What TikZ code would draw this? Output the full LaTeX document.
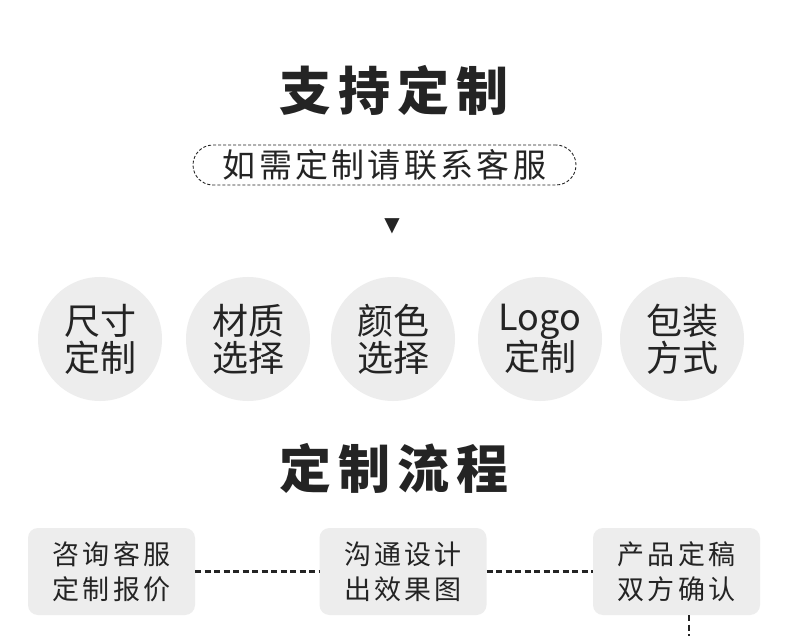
\documentclass[tikz,border=0pt]{standalone}
\usepackage{fontspec}
\setmainfont{Noto Sans CJK SC}
\newfontfamily\symfont{DejaVu Sans}
\definecolor{softgray}{RGB}{237,237,237}
\definecolor{inkgray}{RGB}{36,36,36}
\usetikzlibrary{positioning}
\tikzset{
  title/.style={text=inkgray, font=\fontsize{52}{56}\selectfont\bfseries\addfontfeature{LetterSpace=14}},
  note/.style={draw=inkgray, line width=0.9pt, dash pattern=on 3pt off 2pt, rounded corners=20pt, minimum width=383pt, minimum height=40pt, text=inkgray, font=\fontsize{33}{36}\selectfont\addfontfeature{LetterSpace=10}},
  option/.style={circle, fill=softgray, minimum size=124pt, inner sep=0pt, align=center, text=inkgray, font=\fontsize{36}{37}\selectfont},
  stepbox/.style={fill=softgray, rounded corners=10pt, minimum width=167pt, minimum height=87pt, align=center, text=inkgray, font=\fontsize{27}{35}\selectfont\addfontfeature{LetterSpace=12}},
  link/.style={draw=inkgray, line width=2.2pt, dash pattern=on 6pt off 3.5pt}
}

\begin{document}
\begin{tikzpicture}[x=1pt, y=-1pt]
  \fill[white] (0,0) rectangle (790,636);
  \useasboundingbox (0,0) rectangle (790,636);

  \node[title] (head) at (394,90) {支持定制};
  \node[note] (ask) at (384.5,165) {如需定制请联系客服};
  \node[text=inkgray, font=\symfont\fontsize{20}{20}\selectfont] (mark) at (392,226) {▼};

  % what can be customised
  \foreach \x/\name/\txt in {100/size/{尺寸\\定制}, 248/material/{材质\\选择}, 393/colour/{颜色\\选择}, 540/logo/{Logo\\定制}, 682/package/{包装\\方式}}
    \node[option] (\name) at (\x,339) {\txt};

  \node[title] (flow) at (394,468) {定制流程};

  % process
  \node[stepbox] (consult) at (111.5,571.5) {咨询客服\\定制报价};
  \node[stepbox] (design) at (403,571.5) {沟通设计\\出效果图};
  \node[stepbox] (confirm) at (676.5,571.5) {产品定稿\\双方确认};
  \coordinate (tail) at (689,636);

  \draw[link] (consult) -- (design);
  \draw[link] (design) -- (confirm);
  \draw[link] (confirm.south -| tail) -- (tail);
\end{tikzpicture}
\end{document}
